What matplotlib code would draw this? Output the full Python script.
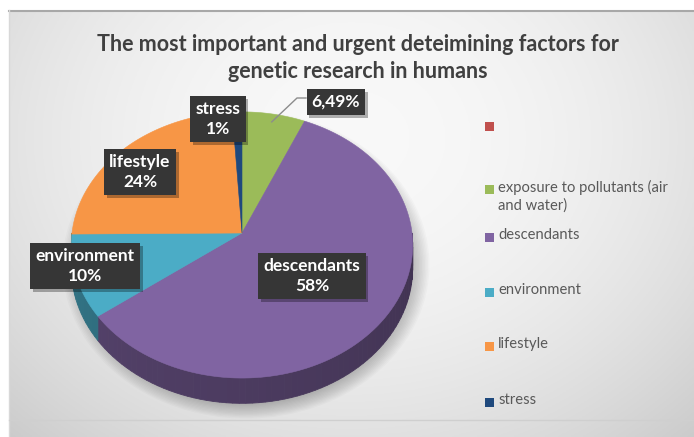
import numpy as np
import matplotlib.pyplot as plt
from matplotlib.patches import Polygon, Rectangle, Ellipse
import matplotlib.patheffects as pe
from matplotlib.colors import to_rgb

plt.rcParams['font.family'] = ['Lato', 'DejaVu Sans']

title = "The most important and urgent deteimining factors for\ngenetic research in humans"
categories = ["", "exposure to pollutants (air\nand water)", "descendants",
              "environment", "lifestyle", "stress"]
values = [0, 6.49, 58, 10, 24, 1]
colors = ["#C0504D", "#9BBB59", "#8064A2", "#4BACC6", "#F79646", "#1F497D"]
# which slices get a name in their data label (green shows only the value)
show_name = [False, False, True, True, True, True]
show_label = [False, True, True, True, True, True]

# pie geometry (pixel space, y down)
cx, cy = 242, 233
rx, ry = 170, 132
persp = 0.09
depth = 23


def proj(phi, r=1.0, z=0.0):
    u, v = r * np.sin(phi), r * np.cos(phi)
    f = 1.0 / (1.0 + persp * v)
    return cx + rx * u * f, cy - ry * v * f + depth * z * f


fig = plt.figure(figsize=(6.94, 4.37), dpi=100)
ax = fig.add_axes([0, 0, 1, 1])
ax.set_xlim(0, 694)
ax.set_ylim(437, 0)
ax.axis('off')

# chart area gradient fill
yy, xx = np.mgrid[0:1:200j, 0:1:300j]
rr = ((xx - 0.5) / 0.75) ** 2 + ((yy - 0.3) / 1.0) ** 2
g = np.clip(0.975 - 0.19 * rr, 0, 1)
ax.imshow(np.dstack([g, g, g]), extent=(9, 694, 437, 10), aspect='auto', zorder=0)
ax.plot([9, 694], [10.5, 10.5], color='#a8a8a8', lw=1.5, zorder=1)
ax.plot([9, 9], [10, 437], color='#d8d8d8', lw=1, zorder=1)
ax.plot([9, 694], [419.5, 419.5], color='#cfcfcf', lw=1, zorder=1)

# soft shadow under the pie
for i in range(14):
    ax.add_patch(Ellipse((cx + 4, cy + 32), 2 * (rx - 6 + 1.5 * i), 2 * (ry + 6 + 1.2 * i),
                         color='black', alpha=0.02, lw=0, zorder=1))

total = sum(values)
bounds = np.concatenate([[0], np.cumsum(values)]) / total * 2 * np.pi

# side walls (front half only)
for i, c in enumerate(colors):
    a0, a1 = max(bounds[i], np.pi / 2), min(bounds[i + 1], 3 * np.pi / 2)
    if a1 <= a0:
        continue
    base = np.array(to_rgb(c))
    steps = np.linspace(a0, a1, max(2, int(np.degrees(a1 - a0) / 2) + 1))
    for s0, s1 in zip(steps[:-1], steps[1:]):
        shade = 0.5 + 0.18 * ((s0 + s1) / 2 - np.pi / 2) / np.pi
        col = base * shade
        quad = [proj(s0), proj(s1), proj(s1, z=1), proj(s0, z=1)]
        ax.add_patch(Polygon(quad, closed=True, fc=col, ec=col, lw=0.6, zorder=2))

# top faces
for i, c in enumerate(colors):
    a0, a1 = bounds[i], bounds[i + 1]
    if a1 <= a0:
        continue
    arc = np.linspace(a0, a1, max(2, int(np.degrees(a1 - a0)) + 2))
    pts = [(cx, cy)] + [proj(a) for a in arc]
    ax.add_patch(Polygon(pts, closed=True, fc=c, ec=c, lw=0.4, zorder=3))

# data labels
label_pos = {1: (336, 102), 2: (312, 276), 3: (85, 266), 4: (140, 172), 5: (218, 119)}
for i, v in enumerate(values):
    if not show_label[i]:
        continue
    if show_name[i]:
        s = f"{categories[i]}\n{v:.0f}%"
    else:
        s = f"{v:.2f}%".replace('.', ',')
    x, y = label_pos[i]
    t = ax.text(x, y, s, ha='center', va='center', color='white', fontweight='bold',
                fontsize=12.5, linespacing=1.3, zorder=10,
                bbox=dict(boxstyle='square,pad=0.3', fc='#363636', ec='none'))
    t.get_bbox_patch().set_path_effects([
        pe.SimplePatchShadow(offset=(2, -2), shadow_rgbFace='black', alpha=0.3),
        pe.Normal()])

# leader line for the small green slice
gx, gy = proj((bounds[1] + bounds[2]) / 2, r=0.93)
ax.plot([306, 297, gx], [98, 98, gy], color='#8c8c8c', lw=1, zorder=9)

# title
ax.text(358, 58, title, ha='center', va='center', fontsize=15.5, fontweight='bold',
        color='#404040', linespacing=1.3, zorder=10)

# legend
legend_y = [126, 189, 237, 292, 346, 402]
for c, name, y in zip(colors, categories, legend_y):
    ax.add_patch(Rectangle((485, y - 4.5), 9, 9, fc=c, ec='none', zorder=10))
    ax.text(498, y - 9, name, ha='left', va='top', fontsize=10.6, color='#595959',
            linespacing=1.25, zorder=10)

fig.savefig('out.png', dpi=100)
